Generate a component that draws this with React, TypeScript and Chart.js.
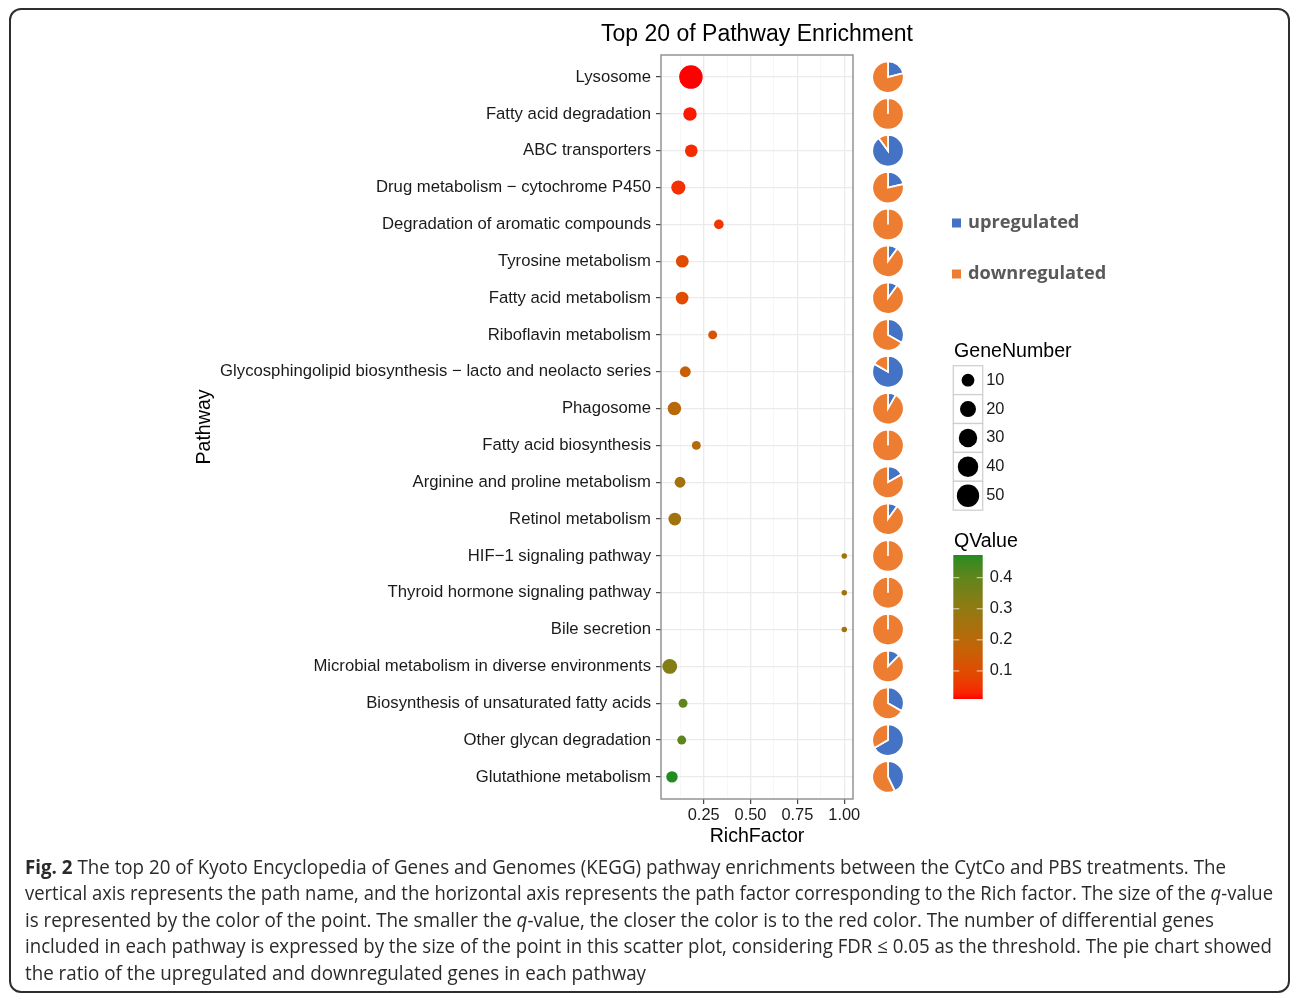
import React, { useEffect, useLayoutEffect, useRef } from 'react';
import { Chart, registerables } from 'chart.js';

Chart.register(...registerables);

// ---- data ----
const pathways = [
  'Lysosome',
  'Fatty acid degradation',
  'ABC transporters',
  'Drug metabolism \u2212 cytochrome P450',
  'Degradation of aromatic compounds',
  'Tyrosine metabolism',
  'Fatty acid metabolism',
  'Riboflavin metabolism',
  'Glycosphingolipid biosynthesis \u2212 lacto and neolacto series',
  'Phagosome',
  'Fatty acid biosynthesis',
  'Arginine and proline metabolism',
  'Retinol metabolism',
  'HIF\u22121 signaling pathway',
  'Thyroid hormone signaling pathway',
  'Bile secretion',
  'Microbial metabolism in diverse environments',
  'Biosynthesis of unsaturated fatty acids',
  'Other glycan degradation',
  'Glutathione metabolism',
];

const richFactor = [
  0.182, 0.177, 0.184, 0.115, 0.331, 0.136, 0.135, 0.298, 0.152, 0.094,
  0.211, 0.124, 0.096, 1.0, 1.0, 1.0, 0.069, 0.14, 0.133, 0.081,
];

const qValue = [
  0.0098, 0.022, 0.038, 0.045, 0.055, 0.095, 0.1, 0.12, 0.16, 0.205,
  0.21, 0.255, 0.26, 0.265, 0.265, 0.265, 0.33, 0.4, 0.405, 0.473,
];

const upGenes = [12, 0, 9, 3, 0, 1, 1, 1, 5, 1, 0, 1, 1, 0, 0, 0, 2, 1, 2, 3];
const downGenes = [45, 12, 1, 11, 4, 9, 9, 2, 1, 11, 3, 5, 9, 1, 1, 1, 14, 2, 1, 4];

const xGridValues = [0.125, 0.25, 0.375, 0.5, 0.625, 0.75, 0.875, 1.0];
const xLabelValues = [0.25, 0.5, 0.75, 1.0];
const sizeBreaks = [10, 20, 30, 40, 50];
const qBreaks = [0.1, 0.2, 0.3, 0.4];

type Part = { t: string; b?: boolean; i?: boolean };
const captionLines: Part[][] = [
  [
    { t: 'Fig. 2', b: true },
    { t: ' The top 20 of Kyoto Encyclopedia of Genes and Genomes (KEGG) pathway enrichments between the CytCo and PBS treatments. The' },
  ],
  [
    { t: 'vertical axis represents the path name, and the horizontal axis represents the path factor corresponding to the Rich factor. The size of the ' },
    { t: 'q', i: true },
    { t: '-value' },
  ],
  [
    { t: 'is represented by the color of the point. The smaller the ' },
    { t: 'q', i: true },
    { t: '-value, the closer the color is to the red color. The number of differential genes' },
  ],
  [{ t: 'included in each pathway is expressed by the size of the point in this scatter plot, considering FDR \u2264 0.05 as the threshold. The pie chart showed' }],
  [{ t: 'the ratio of the upregulated and downregulated genes in each pathway' }],
];
const captionWidths = [1201, 1248, 1189, 1247, 621];

// ---- styling ----
const SANS = '"Liberation Sans", Arial, Helvetica, sans-serif';
const UP_COLOR = '#4472C4';
const DOWN_COLOR = '#ED7D31';
const LOW_COLOR = '#FF0000';
const HIGH_COLOR = '#228B22';

// ---- colour scale (Lab interpolation) ----
function hexToRgb(h: string) {
  const n = parseInt(h.slice(1), 16);
  return [(n >> 16) & 255, (n >> 8) & 255, n & 255];
}
const toLin = (c: number) => {
  c /= 255;
  return c <= 0.04045 ? c / 12.92 : Math.pow((c + 0.055) / 1.055, 2.4);
};
const fromLin = (c: number) => {
  const v = c <= 0.0031308 ? 12.92 * c : 1.055 * Math.pow(c, 1 / 2.4) - 0.055;
  return Math.round(Math.min(1, Math.max(0, v)) * 255);
};
const Xn = 0.95047, Yn = 1, Zn = 1.08883;
function rgbToLab([r, g, b]: number[]) {
  const R = toLin(r), G = toLin(g), B = toLin(b);
  const X = (0.4124 * R + 0.3576 * G + 0.1805 * B) / Xn;
  const Y = (0.2126 * R + 0.7152 * G + 0.0722 * B) / Yn;
  const Z = (0.0193 * R + 0.1192 * G + 0.9505 * B) / Zn;
  const f = (t: number) => (t > 0.008856 ? Math.cbrt(t) : 7.787 * t + 16 / 116);
  const fx = f(X), fy = f(Y), fz = f(Z);
  return [116 * fy - 16, 500 * (fx - fy), 200 * (fy - fz)];
}
function labToRgb([L, a, b]: number[]) {
  const fy = (L + 16) / 116;
  const fx = fy + a / 500;
  const fz = fy - b / 200;
  const fi = (t: number) => (t > 0.206893 ? t * t * t : (t - 16 / 116) / 7.787);
  const X = fi(fx) * Xn, Y = fi(fy) * Yn, Z = fi(fz) * Zn;
  const R = 3.2406 * X - 1.5372 * Y - 0.4986 * Z;
  const G = -0.9689 * X + 1.8758 * Y + 0.0415 * Z;
  const B = 0.0557 * X - 0.204 * Y + 1.057 * Z;
  return `rgb(${fromLin(R)},${fromLin(G)},${fromLin(B)})`;
}
const labLow = rgbToLab(hexToRgb(LOW_COLOR));
const labHigh = rgbToLab(hexToRgb(HIGH_COLOR));
const qMin = Math.min(...qValue);
const qMax = Math.max(...qValue);
function qColor(q: number) {
  const t = Math.min(1, Math.max(0, (q - qMin) / (qMax - qMin)));
  return labToRgb(labLow.map((v, k) => v + (labHigh[k] - v) * t));
}

// ---- size scale (area-proportional) ----
const geneNumber = upGenes.map((u, i) => u + downGenes[i]);
const gMin = Math.min(...geneNumber);
const gMax = Math.max(...geneNumber);
const D_MIN = 5.5;
const D_MAX = 23.5;
function diameter(n: number) {
  return D_MIN + (D_MAX - D_MIN) * Math.sqrt((n - gMin) / (gMax - gMin));
}

// ---- x range with 5% expansion ----
const rfMin = Math.min(...richFactor);
const rfMax = Math.max(...richFactor);
const xMin = rfMin - 0.05 * (rfMax - rfMin);
const xMax = rfMax + 0.05 * (rfMax - rfMin);

const isMajor = (v: number) => xLabelValues.some((m) => Math.abs(m - v) < 1e-9);

const decorPlugin = {
  id: 'decor',
  afterDraw(chart: any) {
    const { ctx, chartArea: a, scales } = chart;
    const ys = scales.y;
    ctx.save();

    // panel border
    ctx.strokeStyle = '#8c8c8c';
    ctx.lineWidth = 1.4;
    ctx.strokeRect(a.left, a.top, a.right - a.left, a.bottom - a.top);

    // plot title
    ctx.fillStyle = '#000';
    ctx.font = `23px ${SANS}`;
    ctx.textAlign = 'center';
    ctx.textBaseline = 'alphabetic';
    ctx.fillText('Top 20 of Pathway Enrichment', (a.left + a.right) / 2, 40.5);

    // up/down pies, one per pathway row
    const pr = 15.8;
    pathways.forEach((_, i) => {
      const cy = ys.getPixelForValue(i);
      const cx = a.right + 35;
      const total = upGenes[i] + downGenes[i];
      let start = -Math.PI / 2;
      const parts: [number, string][] = [
        [upGenes[i], UP_COLOR],
        [downGenes[i], DOWN_COLOR],
      ];
      parts.forEach(([n, col]) => {
        if (!n) return;
        const sweep = (n / total) * Math.PI * 2;
        ctx.beginPath();
        ctx.moveTo(cx, cy);
        ctx.arc(cx, cy, pr, start, start + sweep);
        ctx.closePath();
        ctx.fillStyle = col;
        ctx.fill();
        ctx.strokeStyle = '#fff';
        ctx.lineWidth = 1.8;
        ctx.lineJoin = 'miter';
        ctx.stroke();
        start += sweep;
      });
    });

    // up/down legend
    const lx = 952;
    ctx.textAlign = 'left';
    ctx.textBaseline = 'middle';
    ctx.font = `bold 18.2px "Open Sans", ${SANS}`;
    [
      ['upregulated', UP_COLOR, 223],
      ['downregulated', DOWN_COLOR, 274],
    ].forEach(([label, col, y]: any) => {
      ctx.fillStyle = col;
      ctx.fillRect(lx, y - 4.5, 9, 9);
      ctx.fillStyle = '#595959';
      ctx.fillText(label, lx + 16, y);
    });

    // GeneNumber legend
    ctx.fillStyle = '#000';
    ctx.font = `19.6px ${SANS}`;
    ctx.fillText('GeneNumber', 954, 351.5);
    const keyX = 953.3, keyW = 29.4, keyH = 28.9, keyTop = 365.7;
    sizeBreaks.forEach((v, k) => {
      const y0 = keyTop + k * keyH;
      ctx.fillStyle = '#fff';
      ctx.fillRect(keyX, y0, keyW, keyH);
      ctx.strokeStyle = '#d0d0d0';
      ctx.lineWidth = 1.3;
      ctx.strokeRect(keyX, y0, keyW, keyH);
      ctx.beginPath();
      ctx.arc(keyX + keyW / 2, y0 + keyH / 2, diameter(v) / 2, 0, Math.PI * 2);
      ctx.fillStyle = '#000';
      ctx.fill();
      ctx.font = `16.4px ${SANS}`;
      ctx.fillStyle = '#1a1a1a';
      ctx.fillText(String(v), keyX + keyW + 3.5, y0 + keyH / 2);
    });

    // QValue colour bar
    ctx.fillStyle = '#000';
    ctx.font = `19.6px ${SANS}`;
    ctx.fillText('QValue', 954, 541.5);
    const bx = 953.3, bw = 29.4, bTop = 555, bBot = 699;
    const grad = ctx.createLinearGradient(0, bBot, 0, bTop);
    for (let k = 0; k <= 30; k++) {
      grad.addColorStop(k / 30, qColor(qMin + ((qMax - qMin) * k) / 30));
    }
    ctx.fillStyle = grad;
    ctx.fillRect(bx, bTop, bw, bBot - bTop);
    const qy = (q: number) => bBot - ((q - qMin) / (qMax - qMin)) * (bBot - bTop);
    qBreaks.forEach((q) => {
      const y = qy(q);
      ctx.strokeStyle = 'rgba(255,255,255,0.75)';
      ctx.lineWidth = 1;
      ctx.beginPath();
      ctx.moveTo(bx, y);
      ctx.lineTo(bx + 6, y);
      ctx.moveTo(bx + bw - 6, y);
      ctx.lineTo(bx + bw, y);
      ctx.stroke();
      ctx.fillStyle = '#1a1a1a';
      ctx.font = `16.4px ${SANS}`;
      ctx.fillText(q.toFixed(1), bx + bw + 7, y);
    });

    ctx.restore();
  },
};

export default function App() {
  const canvasRef = useRef<HTMLCanvasElement | null>(null);
  const lineRefs = useRef<(HTMLSpanElement | null)[]>([]);

  useEffect(() => {
    const canvas = canvasRef.current;
    if (!canvas) return;
    const chart = new Chart(canvas, {
      type: 'scatter',
      data: {
        datasets: [
          {
            data: pathways.map((_, i) => ({ x: richFactor[i], y: i })),
            pointRadius: geneNumber.map((n) => diameter(n) / 2),
            pointHoverRadius: geneNumber.map((n) => diameter(n) / 2),
            pointBackgroundColor: qValue.map(qColor),
            pointBorderWidth: 0,
            pointBorderColor: 'rgba(0,0,0,0)',
          },
        ],
      },
      options: {
        responsive: false,
        animation: false,
        events: [],
        layout: { padding: { left: 189, top: 55, right: 437, bottom: 141 } },
        plugins: {
          legend: { display: false },
          tooltip: { enabled: false },
          title: { display: false },
        },
        scales: {
          x: {
            type: 'linear',
            min: xMin,
            max: xMax,
            afterBuildTicks: (s: any) => {
              s.ticks = xGridValues.map((v) => ({ value: v }));
            },
            afterFit: (s: any) => {
              s.height = 53;
            },
            ticks: {
              autoSkip: false,
              maxRotation: 0,
              padding: 2,
              color: '#1a1a1a',
              font: { family: SANS, size: 16.4 },
              callback: (v: any) => (isMajor(Number(v)) ? Number(v).toFixed(2) : ''),
            },
            grid: {
              color: (c: any) => (isMajor(c.tick?.value) ? '#ebebeb' : '#f3f3f3'),
              lineWidth: (c: any) => (isMajor(c.tick?.value) ? 1.3 : 0.7),
              tickColor: (c: any) => (isMajor(c.tick?.value) ? '#333' : 'rgba(0,0,0,0)'),
              tickWidth: 1.1,
              tickLength: 5,
            },
            border: { display: false },
            title: {
              display: true,
              text: 'RichFactor',
              color: '#000',
              font: { family: SANS, size: 19.6 },
              padding: { top: 0, bottom: 4 },
            },
          },
          y: {
            type: 'linear',
            reverse: true,
            min: -0.6,
            max: pathways.length - 1 + 0.6,
            afterBuildTicks: (s: any) => {
              s.ticks = pathways.map((_, i) => ({ value: i }));
            },
            afterFit: (s: any) => {
              s.width = 472;
            },
            ticks: {
              autoSkip: false,
              padding: 5,
              color: '#1a1a1a',
              font: { family: SANS, size: 16.7 },
              callback: (v: any) => pathways[Math.round(Number(v))],
            },
            grid: {
              color: '#ebebeb',
              lineWidth: 1.3,
              tickColor: '#333',
              tickWidth: 1.1,
              tickLength: 5,
            },
            border: { display: false },
            title: {
              display: true,
              text: 'Pathway',
              color: '#000',
              font: { family: SANS, size: 19.6 },
              padding: { top: 4, bottom: 4 },
            },
          },
        },
      } as any,
      plugins: [decorPlugin],
    });
    return () => chart.destroy();
  }, []);

  useLayoutEffect(() => {
    const fit = () => {
      lineRefs.current.forEach((el, i) => {
        if (!el) return;
        el.style.transform = 'none';
        const w = el.getBoundingClientRect().width;
        if (w > 0) el.style.transform = `scaleX(${captionWidths[i] / w})`;
      });
    };
    fit();
    if ((document as any).fonts?.ready) (document as any).fonts.ready.then(fit);
  }, []);

  return (
    <div
      style={{
        position: 'absolute',
        left: 0,
        top: 0,
        width: 1290,
        height: 993,
        overflow: 'hidden',
        background: '#fff',
      }}
    >
      <div
        style={{
          position: 'absolute',
          left: 9,
          top: 8,
          width: 1281,
          height: 985,
          boxSizing: 'border-box',
          border: '2px solid #2e2e2e',
          borderRadius: 12,
        }}
      />
      <canvas
        ref={canvasRef}
        width={1290}
        height={993}
        style={{ position: 'absolute', left: 0, top: 0, width: 1290, height: 993 }}
      />
      <div
        style={{
          position: 'absolute',
          left: 25,
          top: 853.7,
          fontFamily: '"Open Sans", sans-serif',
          fontSize: 19.5,
          lineHeight: '26.5px',
          color: '#2a2a2a',
        }}
      >
        {captionLines.map((line, li) => (
          <div key={li} style={{ height: 26.5, whiteSpace: 'nowrap' }}>
            <span
              ref={(el) => {
                lineRefs.current[li] = el;
              }}
              style={{ display: 'inline-block', transformOrigin: 'left center' }}
            >
              {line.map((p, pi) => (
                <span
                  key={pi}
                  style={{ fontWeight: p.b ? 700 : 400, fontStyle: p.i ? 'italic' : 'normal' }}
                >
                  {p.t}
                </span>
              ))}
            </span>
          </div>
        ))}
      </div>
    </div>
  );
}
